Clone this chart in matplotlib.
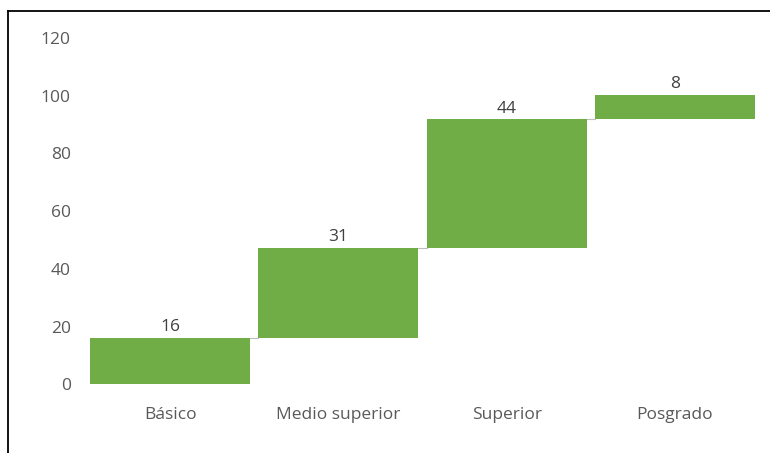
import numpy as np
import matplotlib.pyplot as plt
from matplotlib.lines import Line2D

categories = ['Básico', 'Medio superior', 'Superior', 'Posgrado']
values = [16.2, 31.2, 44.4, 8.4]
labels = ['16', '31', '44', '8']
yticks = [0, 20, 40, 60, 80, 100, 120]

green = '#70AD47'
gray = '#595959'

plt.rcParams['font.family'] = ['Open Sans', 'DejaVu Sans']

fig = plt.figure(figsize=(7.7, 4.53), dpi=100)
ax = fig.add_axes([0.1117, 0.1517, 0.8740, 0.7644])

vals = np.array(values)
ends = np.cumsum(vals)
starts = ends - vals
x = np.arange(len(categories))
w = 0.95

ax.bar(x, vals, bottom=starts, width=w, color=green, zorder=2)

# connectors between bars
for i in range(len(x) - 1):
    ax.plot([x[i] + w / 2, x[i + 1] - w / 2], [ends[i], ends[i]],
            color='#BFBFBF', lw=0.8, zorder=1)

for xi, top, lab in zip(x, ends, labels):
    ax.annotate(lab, (xi, top), xytext=(0, 2), textcoords='offset points',
                ha='center', va='bottom', fontsize=12.5, color='#404040')

ax.set_xlim(-0.5, len(categories) - 0.5)
ax.set_ylim(0, 120)
ax.set_yticks(yticks)
ax.set_xticks(x)
ax.set_xticklabels(categories)
ax.tick_params(axis='both', length=0, colors=gray, labelsize=12.5)
ax.tick_params(axis='x', pad=16)
ax.tick_params(axis='y', pad=11)
for s in ax.spines.values():
    s.set_visible(False)

# outer chart border (left and top edges visible)
fig.add_artist(Line2D([7.5 / 770, 7.5 / 770], [0, 1 - 10.5 / 453],
                      transform=fig.transFigure, color='black', lw=1.3))
fig.add_artist(Line2D([7.5 / 770, 1], [1 - 10.5 / 453, 1 - 10.5 / 453],
                      transform=fig.transFigure, color='black', lw=1.3))

fig.savefig('out.png', dpi=100)
